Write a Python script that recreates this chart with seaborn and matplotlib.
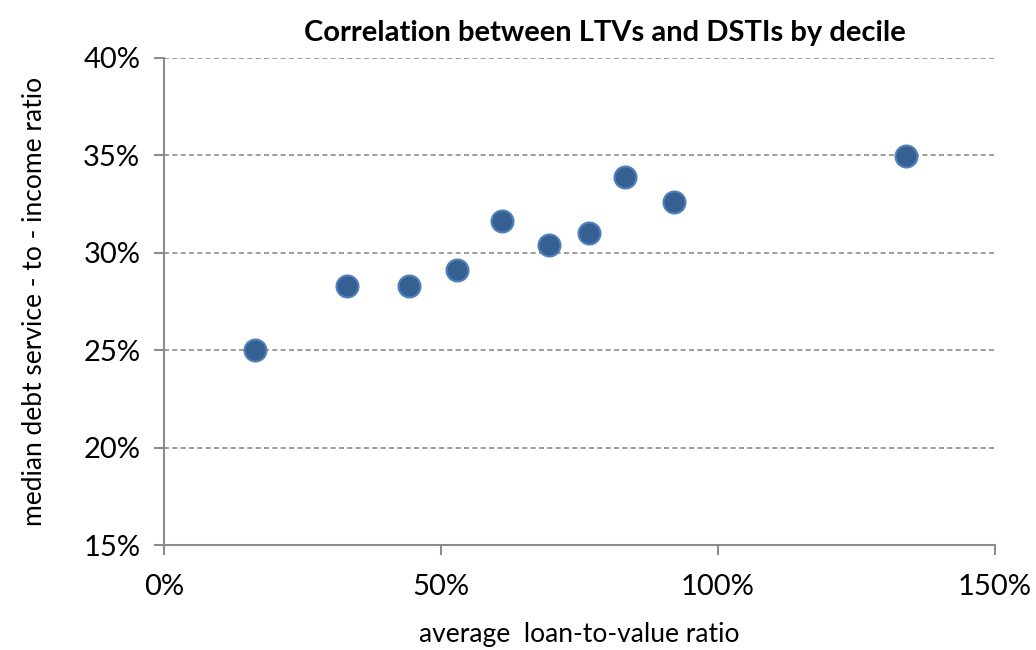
import numpy as np
import pandas as pd
import matplotlib
matplotlib.use("Agg")
import matplotlib.pyplot as plt
import seaborn as sns
from matplotlib.ticker import FuncFormatter

# Datos (LTV medio y DSTI mediano por decil)
ltv = [16.4, 33.1, 44.2, 52.8, 61.1, 69.5, 76.7, 83.3, 92.0, 133.9]
dsti = [25.0, 28.3, 28.3, 29.1, 31.6, 30.4, 31.0, 33.85, 32.6, 34.95]
x_ticks = [0, 50, 100, 150]
y_ticks = [15, 20, 25, 30, 35, 40]

df = pd.DataFrame({"ltv": ltv, "dsti": dsti})

sns.set_style("white")
plt.rcParams["font.family"] = ["Lato", "DejaVu Sans"]

fig = plt.figure(figsize=(10.36, 6.5), dpi=100)
ax = fig.add_axes([0.1583, 0.1615, 0.8021, 0.75])

# Líneas de cuadrícula discontinuas
for y in y_ticks[1:]:
    ax.axhline(y, color="#8c8c8c", lw=1.2, ls=(0, (3, 2)), zorder=1)

sns.scatterplot(data=df, x="ltv", y="dsti", ax=ax, s=250, color="#366092",
                edgecolor="#4f81bd", linewidth=1.5, zorder=3)

ax.set_xlim(0, 150)
ax.set_ylim(15, 40)
ax.set_xticks(x_ticks)
ax.set_yticks(y_ticks)
pct = FuncFormatter(lambda v, p: f"{v:.0f}%")
ax.xaxis.set_major_formatter(pct)
ax.yaxis.set_major_formatter(pct)

for s in ["top", "right"]:
    ax.spines[s].set_visible(False)
for s in ["left", "bottom"]:
    ax.spines[s].set_color("#8c8c8c")
    ax.spines[s].set_linewidth(1.5)

ax.tick_params(axis="both", direction="out", length=7, width=1.5, color="#8c8c8c",
               labelsize=21, labelcolor="black", bottom=True, left=True)
ax.tick_params(axis="x", pad=14)
ax.tick_params(axis="y", pad=10)

ax.set_xlabel("average  loan-to-value ratio", fontsize=19, labelpad=16, color="black")
ax.set_ylabel("median debt service - to - income ratio", fontsize=19, labelpad=26,
              color="black")
ax.set_title("Correlation between LTVs and DSTIs by decile", fontsize=21,
             fontweight="bold", pad=12, x=0.53, color="black")

fig.savefig("out.png", dpi=100)
